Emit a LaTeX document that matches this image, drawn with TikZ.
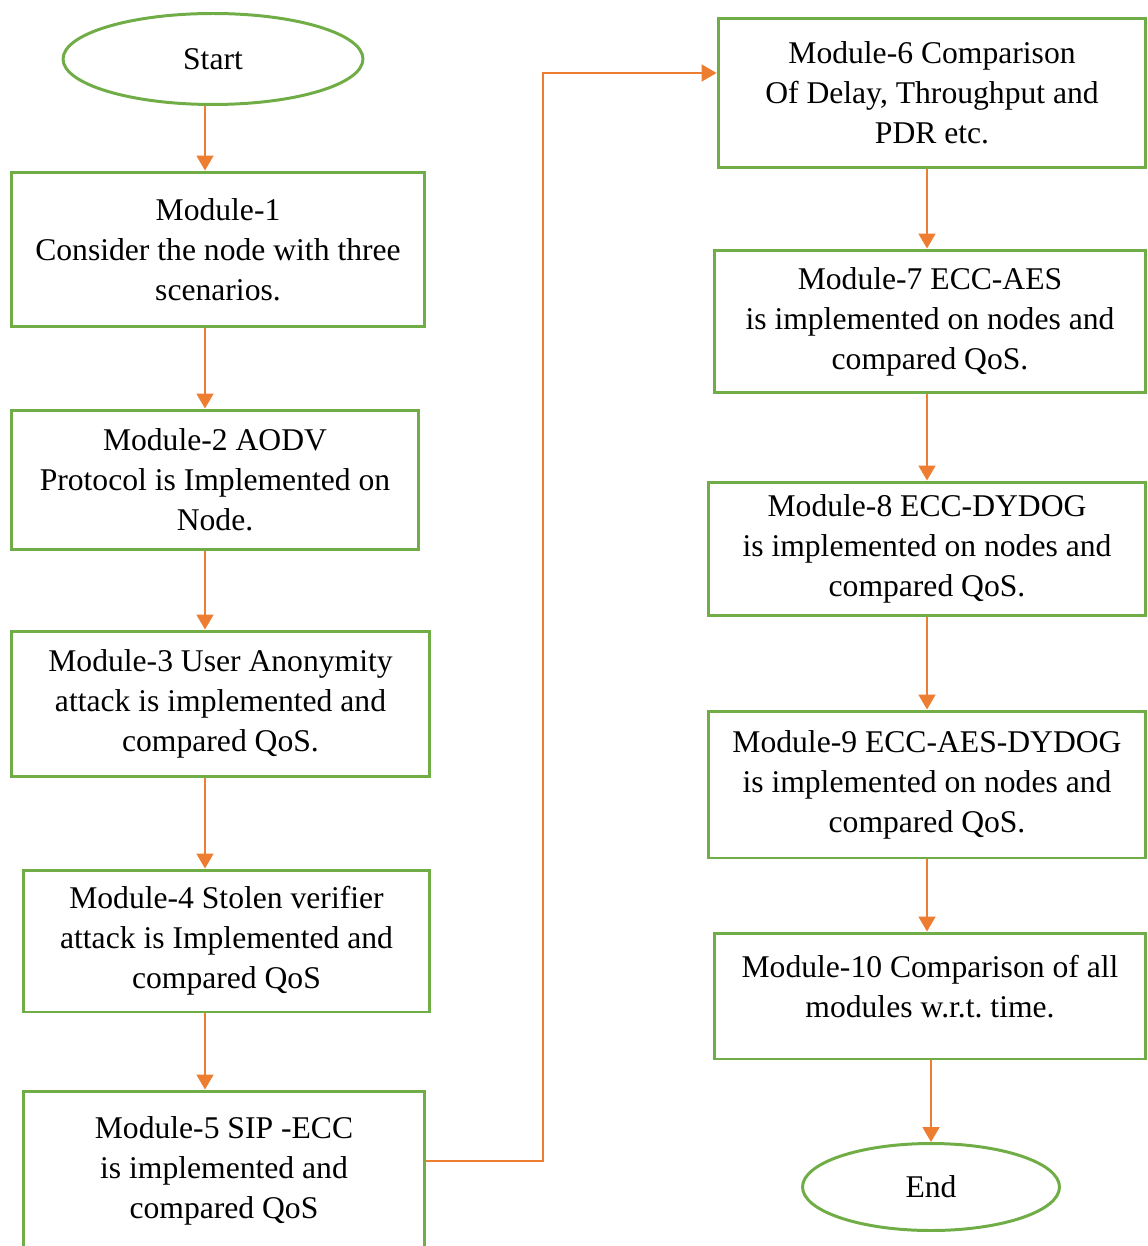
\documentclass[tikz,border=0pt]{standalone}
\usepackage{fontspec}
\setmainfont{Liberation Serif}
\usetikzlibrary{arrows.meta, shapes.geometric}
\definecolor{boxgreen}{HTML}{70AD47}
\definecolor{flowarrow}{HTML}{ED7D31}
\begin{document}
\begin{tikzpicture}[x=0.02cm, y=-0.02cm] % 1 unit = 1 pixel of the sketch
\tikzstyle{mybox} = [draw=boxgreen, line width=1.7pt, align=center, inner sep=2pt, font=\fontsize{18}{22.8}\selectfont] % module box style
\tikzstyle{myterm} = [mybox, ellipse, inner sep=0pt] % start and end style
\tikzstyle{myarrow} = [draw=flowarrow, line width=1.1pt, -{Triangle[width=0.34cm, length=0.3cm]}] % flow arrows
\useasboundingbox (0,0) rectangle (1147,1246);

% left column
\node[myterm, minimum width=6cm, minimum height=1.82cm] (start) at (213,59) {Start};
\node[mybox, minimum width=8.28cm, minimum height=3.1cm] (m1) at (218,249.5) {Module-1\\Consider the node with three\\scenarios.};
\node[mybox, minimum width=8.16cm, minimum height=2.8cm] (m2) at (215,480) {Module-2 AODV\\Protocol is Implemented on\\Node.};
\node[mybox, minimum width=8.38cm, minimum height=2.92cm] (m3) at (220.5,704) {Module-3 User Anonymity\\attack is implemented and\\compared QoS.};
\node[mybox, minimum width=8.14cm, minimum height=2.84cm] (m4) at (226.5,941) {Module-4 Stolen verifier\\attack is Implemented and\\compared QoS};
\node[mybox, minimum width=8.04cm, minimum height=3.2cm] (m5) at (224,1171) {Module-5 SIP -ECC\\is implemented and\\compared QoS};

% right column
\node[mybox, minimum width=8.56cm, minimum height=3cm] (m6) at (932,93) {Module-6 Comparison\\Of Delay, Throughput and\\PDR etc.};
\node[mybox, minimum width=8.64cm, minimum height=2.86cm] (m7) at (930,321.5) {Module-7 ECC-AES\\is implemented on nodes and\\compared QoS.};
\node[mybox, minimum width=8.76cm, minimum height=2.68cm] (m8) at (927,549) {Module-8 ECC-DYDOG\\is implemented on nodes and\\compared QoS.};
\node[mybox, minimum width=8.76cm, minimum height=2.94cm] (m9) at (927,784.5) {Module-9 ECC-AES-DYDOG\\is implemented on nodes and\\compared QoS.};
\node[mybox, minimum width=8.64cm, minimum height=2.52cm, text depth=0.4cm] (m10) at (930,996) {Module-10 Comparison of all\\modules w.r.t.\ time.};
\node[myterm, minimum width=5.14cm, minimum height=1.74cm] (end) at (931,1187) {End};

\coordinate (lcol) at (205,0);
\coordinate (rcol) at (927,0);
\coordinate (turn) at (543,0);
\coordinate (m6in) at ([yshift=0.4cm]m6.west);

% arrows
\draw[myarrow] (start.south -| lcol) -- (m1.north -| lcol);
\draw[myarrow] (m1.south -| lcol) -- (m2.north -| lcol);
\draw[myarrow] (m2.south -| lcol) -- (m3.north -| lcol);
\draw[myarrow] (m3.south -| lcol) -- (m4.north -| lcol);
\draw[myarrow] (m4.south -| lcol) -- (m5.north -| lcol);
\draw[myarrow] ([yshift=0.2cm]m5.east) -| (turn |- m6in) -- (m6in);
\draw[myarrow] (m6.south -| rcol) -- (m7.north -| rcol);
\draw[myarrow] (m7.south -| rcol) -- (m8.north -| rcol);
\draw[myarrow] (m8.south -| rcol) -- (m9.north -| rcol);
\draw[myarrow] (m9.south -| rcol) -- (m10.north -| rcol);
\draw[myarrow] (m10.south -| end) -- (end.north);
\end{tikzpicture}
\end{document}
